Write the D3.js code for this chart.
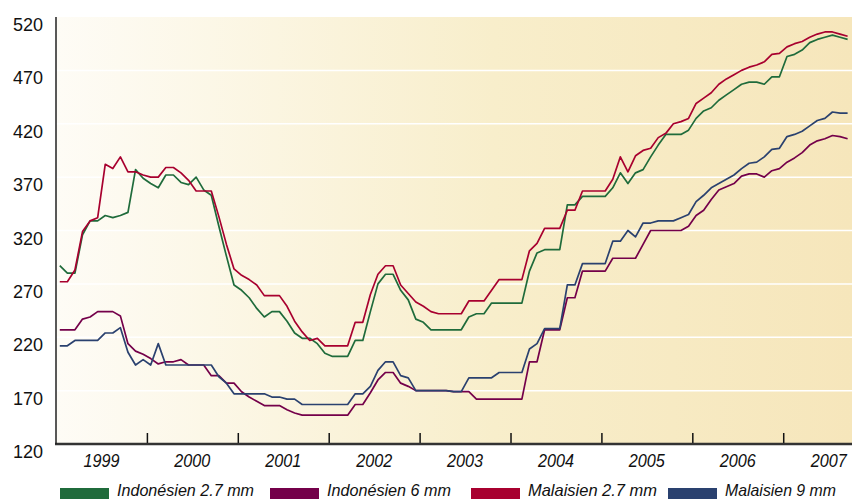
<!DOCTYPE html>
<html>
<head>
<meta charset="utf-8">
<script src="https://cdn.jsdelivr.net/npm/d3@7"></script>
<style>
  body { margin: 0; background: #fff; }
  .ylab { font-family: "Liberation Sans", Arial, sans-serif; font-size: 18px; fill: #111; }
  .xlab, .leg { font-family: "Liberation Sans", Arial, sans-serif; font-style: italic; fill: #111; }
</style>
</head>
<body>
<div id="chart"></div>
<script>
// monthly prices, Jan 1999 .. Sep 2007
const years = ["1999", "2000", "2001", "2002", "2003", "2004", "2005", "2006", "2007"];
const yTicks = [120, 170, 220, 270, 320, 370, 420, 470, 520];

const indo27 = [287, 280, 280, 316, 329, 329, 334, 332, 334, 337, 377, 369, 364, 360, 372, 372, 365, 363, 370, 358,
  353, 324, 296, 269, 264, 257, 247, 239, 244, 244, 235, 224, 219, 219, 214, 205, 202, 202, 202, 217,
  217, 244, 270, 279, 279, 264, 255, 237, 234, 227, 227, 227, 227, 227, 239, 242, 242, 252, 252, 252,
  252, 252, 282, 299, 302, 302, 302, 344, 344, 352, 352, 352, 352, 360, 374, 364, 374, 377, 389, 400,
  410, 410, 410, 414, 425, 432, 435, 442, 447, 452, 457, 459, 459, 457, 464, 464, 483, 485, 489, 496,
  499, 501, 503, 501, 499];

const indo6 = [227, 227, 227, 237, 239, 244, 244, 244, 240, 214, 207, 204, 200, 195, 197, 197, 199, 194, 194, 194,
  184, 184, 177, 177, 169, 164, 160, 156, 156, 156, 152, 149, 147, 147, 147, 147, 147, 147, 147, 157,
  157, 168, 180, 187, 187, 177, 174, 170, 170, 170, 170, 170, 169, 169, 169, 162, 162, 162, 162, 162,
  162, 162, 197, 197, 227, 227, 227, 257, 257, 282, 282, 282, 282, 294, 294, 294, 294, 307, 320, 320,
  320, 320, 320, 324, 334, 339, 349, 358, 361, 364, 371, 373, 373, 370, 376, 378, 384, 388, 393, 400,
  404, 406, 409, 408, 406];

const malay27 = [272, 272, 283, 319, 329, 332, 382, 378, 389, 375, 375, 372, 370, 370, 379, 379, 374, 367, 357, 357,
  357, 333, 307, 284, 278, 274, 269, 259, 259, 259, 249, 235, 225, 217, 219, 212, 212, 212, 212, 234,
  234, 260, 279, 287, 287, 269, 261, 253, 249, 244, 242, 242, 242, 242, 254, 254, 254, 264, 274, 274,
  274, 274, 301, 308, 322, 322, 322, 339, 339, 357, 357, 357, 357, 368, 389, 375, 390, 395, 397, 407,
  411, 420, 422, 425, 439, 444, 449, 457, 462, 466, 470, 473, 475, 478, 485, 486, 492, 495, 497, 501,
  504, 506, 506, 504, 502];

const malay9 = [212, 212, 217, 217, 217, 217, 224, 224, 229, 206, 194, 199, 194, 214, 194, 194, 194, 194, 194, 194,
  194, 183, 177, 167, 167, 167, 167, 167, 164, 164, 162, 162, 157, 157, 157, 157, 157, 157, 157, 167,
  167, 174, 189, 197, 197, 184, 182, 170, 170, 170, 170, 170, 169, 169, 182, 182, 182, 182, 187, 187,
  187, 187, 209, 214, 228, 228, 228, 269, 269, 289, 289, 289, 289, 310, 310, 320, 314, 327, 327, 329,
  329, 329, 332, 335, 347, 353, 360, 364, 368, 372, 378, 383, 384, 389, 396, 397, 408, 410, 413, 418,
  423, 425, 431, 430, 430];

const seriesNames = ["Indonésien 2.7 mm", "Indonésien 6 mm", "Malaisien 2.7 mm", "Malaisien 9 mm"];
const seriesColors = ["#1f6b3b", "#74004a", "#a8002f", "#2a416f"];
const seriesData = [indo27, indo6, malay27, malay9];

const width = 852, height = 500;
const margin = {top: 17, right: 0, bottom: 56, left: 56};

const svg = d3.select("#chart")
    .append("svg")
    .attr("width", width)
    .attr("height", height);

// background gradient
const grad = svg.append("defs").append("linearGradient")
    .attr("id", "bg")
    .attr("x1", "0%").attr("x2", "100%").attr("y1", "0%").attr("y2", "0%");
grad.append("stop").attr("offset", "0%").attr("stop-color", "#fefcf6");
grad.append("stop").attr("offset", "55%").attr("stop-color", "#f8eecb");
grad.append("stop").attr("offset", "100%").attr("stop-color", "#f6e6bb");

// x in months since Jan 1999
let xScale = d3.scaleLinear()
    .domain([0, 105.08])
    .range([margin.left, width - margin.right]);

let yScale = d3.scaleLinear()
    .domain([120, 520])
    .range([height - margin.bottom, margin.top]);

svg.append("rect")
    .attr("x", margin.left)
    .attr("y", margin.top)
    .attr("width", width - margin.left - margin.right)
    .attr("height", height - margin.top - margin.bottom)
    .attr("fill", "url(#bg)");

// white grid lines
svg.append("g")
    .selectAll("line")
    .data(yTicks.slice(1, -1))
    .enter()
    .append("line")
    .attr("x1", margin.left)
    .attr("x2", width)
    .attr("y1", (d) => yScale(d))
    .attr("y2", (d) => yScale(d))
    .attr("stroke", "#fff")
    .attr("stroke-width", 1.5);

// y labels
svg.append("g")
    .selectAll("text")
    .data(yTicks)
    .enter()
    .append("text")
    .attr("class", "ylab")
    .attr("x", 43)
    .attr("y", (d) => yScale(d) + 14)
    .attr("text-anchor", "end")
    .text((d) => d);

// lines
const line = d3.line()
    .x((d, i) => xScale(i + 0.5))
    .y((d) => yScale(d));

svg.append("g")
    .selectAll("path")
    .data(seriesData)
    .enter()
    .append("path")
    .attr("d", (d) => line(d))
    .attr("fill", "none")
    .attr("stroke", (d, i) => seriesColors[i])
    .attr("stroke-width", 1.7)
    .attr("stroke-linejoin", "round");

// axes
const xAxis = d3.axisBottom(xScale)
    .tickValues(d3.range(12, 97, 12))
    .tickSize(-11)
    .tickFormat("");

svg.append("g")
    .attr("transform", `translate(0,${height - margin.bottom})`)
    .call(xAxis)
    .call((g) => g.select(".domain").remove())
    .call((g) => g.selectAll(".tick line").attr("stroke", "#111").attr("stroke-width", 1.5));

svg.append("line")
    .attr("x1", margin.left - 1).attr("x2", width)
    .attr("y1", height - margin.bottom).attr("y2", height - margin.bottom)
    .attr("stroke", "#333").attr("stroke-width", 2.5);

svg.append("line")
    .attr("x1", margin.left).attr("x2", margin.left)
    .attr("y1", margin.top).attr("y2", height - margin.bottom)
    .attr("stroke", "#222").attr("stroke-width", 1.5);

// year labels (condensed look via textLength)
svg.append("g")
    .selectAll("text")
    .data(years)
    .enter()
    .append("text")
    .attr("class", "xlab")
    .attr("x", (d, i) => xScale(i * 12 + 6) - 18)
    .attr("y", 467)
    .attr("textLength", 36)
    .attr("lengthAdjust", "spacingAndGlyphs")
    .style("font-size", "18px")
    .text((d) => d);

// legend
const legendX = [60, 270, 471, 668];
const legendTextW = [137, 124, 129, 111];
const leg = svg.append("g");
leg.selectAll("rect")
    .data(seriesNames)
    .enter()
    .append("rect")
    .attr("x", (d, i) => legendX[i])
    .attr("y", 488)
    .attr("width", 49)
    .attr("height", 11)
    .attr("fill", (d, i) => seriesColors[i]);
leg.selectAll("text")
    .data(seriesNames)
    .enter()
    .append("text")
    .attr("class", "leg")
    .attr("x", (d, i) => legendX[i] + 57)
    .attr("y", 496)
    .attr("textLength", (d, i) => legendTextW[i])
    .attr("lengthAdjust", "spacingAndGlyphs")
    .style("font-size", "17px")
    .text((d) => d);
</script>
</body>
</html>
